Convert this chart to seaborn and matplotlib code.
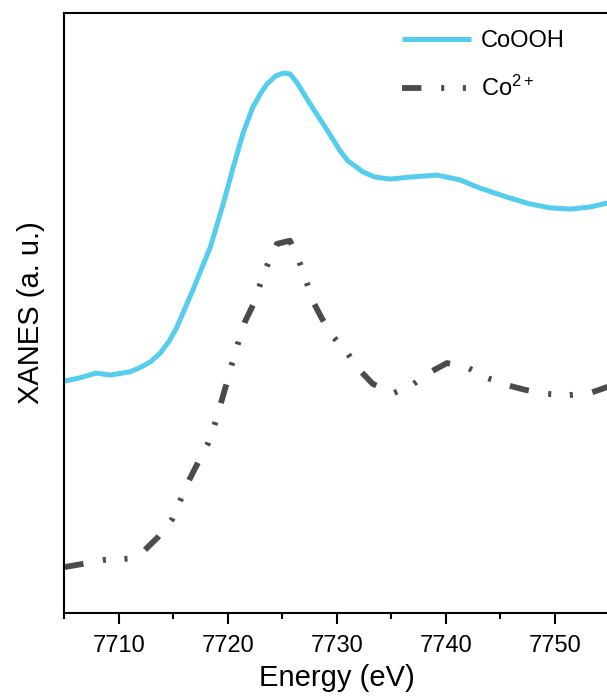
import numpy as np
import pandas as pd
import matplotlib
matplotlib.use("Agg")
import matplotlib.pyplot as plt
from matplotlib.ticker import MultipleLocator
import seaborn as sns

# ---------------- data ----------------
cooh_energy = [7705.0, 7706.4, 7707.9, 7709.2, 7711.0, 7711.9, 7712.9, 7713.8,
               7714.6, 7715.3, 7716.8, 7718.4, 7719.6, 7720.5, 7721.4, 7722.3,
               7723.0, 7723.6, 7724.4, 7725.1, 7725.7, 7726.3, 7727.5, 7729.1,
               7730.3, 7731.0, 7732.4, 7733.5, 7734.9, 7736.7, 7739.2, 7741.3,
               7743.1, 7745.6, 7747.7, 7749.6, 7751.4, 7753.2, 7754.8, 7757.0]
cooh_xanes = [0.579, 0.587, 0.599, 0.594, 0.602, 0.612, 0.627, 0.649,
              0.678, 0.712, 0.807, 0.914, 1.024, 1.114, 1.199, 1.264,
              1.298, 1.322, 1.342, 1.349, 1.347, 1.327, 1.274, 1.207,
              1.155, 1.130, 1.102, 1.089, 1.084, 1.089, 1.094, 1.082,
              1.062, 1.039, 1.022, 1.012, 1.009, 1.014, 1.024, 1.040]

co2_energy = [7705.0, 7706.7, 7708.7, 7710.8, 7711.5, 7712.4, 7713.6, 7714.9,
              7715.7, 7716.5, 7717.3, 7718.2, 7718.9, 7719.4, 7719.9, 7720.4,
              7721.0, 7721.6, 7722.4, 7723.0, 7723.7, 7724.5, 7725.7, 7726.5,
              7727.2, 7727.8, 7728.6, 7729.6, 7730.9, 7732.0, 7733.3, 7735.2,
              7736.8, 7738.4, 7740.1, 7741.9, 7743.8, 7745.6, 7747.3, 7749.3,
              7751.3, 7753.2, 7754.8, 7757.0]
co2_xanes = [0.114, 0.122, 0.132, 0.135, 0.142, 0.157, 0.189, 0.234,
             0.284, 0.334, 0.377, 0.424, 0.479, 0.527, 0.574, 0.624,
             0.679, 0.729, 0.774, 0.824, 0.874, 0.922, 0.930, 0.882,
             0.829, 0.779, 0.737, 0.692, 0.652, 0.609, 0.572, 0.549,
             0.567, 0.599, 0.624, 0.614, 0.587, 0.569, 0.557, 0.547,
             0.544, 0.549, 0.564, 0.580]

labels = ["CoOOH", "Co$^{2+}$"]
x_ticks_major = 10
x_ticks_minor = 5

# ---------------- style ----------------
sns.set_theme(style="ticks")
plt.rcParams["font.family"] = ["Liberation Sans", "DejaVu Sans"]
plt.rcParams["mathtext.fontset"] = "custom"
plt.rcParams["mathtext.rm"] = "Liberation Sans"
plt.rcParams["mathtext.it"] = "Liberation Sans:italic"
plt.rcParams["mathtext.bf"] = "Liberation Sans:bold"
plt.rcParams["lines.scale_dashes"] = False
plt.rcParams["text.color"] = "black"
plt.rcParams["axes.labelcolor"] = "black"
plt.rcParams["xtick.color"] = "black"
plt.rcParams["ytick.color"] = "black"

W, H = 607, 696
fig = plt.figure(figsize=(W / 100, H / 100), dpi=100)
left, right, top, bottom = 64.3, 609.3, 13.3, 612.7
ax = fig.add_axes([left / W, 1 - bottom / H, (right - left) / W, (bottom - top) / H])

df1 = pd.DataFrame({"Energy": cooh_energy, "XANES": cooh_xanes})
df2 = pd.DataFrame({"Energy": co2_energy, "XANES": co2_xanes})

sns.lineplot(data=df1, x="Energy", y="XANES", ax=ax, color="#55CDEE",
             linewidth=3.6, label=labels[0], solid_capstyle="butt",
             solid_joinstyle="round")
sns.lineplot(data=df2, x="Energy", y="XANES", ax=ax, color="#4B4B4B",
             linewidth=4.2, label=labels[1],
             linestyle=(0, (14, 14.2, 2.2, 13.4, 2.2, 14.2)),
             dash_capstyle="butt", dash_joinstyle="round")

ax.set_xlim(7705, 7755)
ax.set_ylim(0, 1.4985)
ax.xaxis.set_major_locator(MultipleLocator(x_ticks_major))
ax.xaxis.set_minor_locator(MultipleLocator(x_ticks_minor))
ax.set_yticks([])

for s in ax.spines.values():
    s.set_linewidth(1.5)
    s.set_color("black")

ax.tick_params(axis="x", which="major", direction="out", length=8, width=1.5,
               labelsize=17, pad=8, color="black", labelcolor="black", bottom=True)
ax.tick_params(axis="x", which="minor", direction="out", length=4, width=1.5,
               color="black", bottom=True)

ax.set_xlabel("Energy (eV)", fontsize=21, labelpad=5, color="black")
ax.set_ylabel("XANES (a. u.)", fontsize=21, labelpad=14, color="black")

leg = ax.legend(loc="upper left", bbox_to_anchor=(401.7 / W, 1 - 30 / H),
                bbox_transform=fig.transFigure, frameon=False, fontsize=17,
                handlelength=2.92, handletextpad=0.42, labelspacing=1.0,
                borderpad=0, borderaxespad=0)
for t in leg.get_texts():
    t.set_color("black")

fig.savefig("out.png", dpi=100)
